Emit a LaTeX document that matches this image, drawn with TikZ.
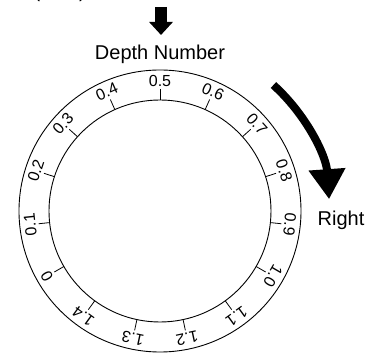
\documentclass[tikz,border=0pt]{standalone}
\usepackage{fontspec}
\setmainfont{Liberation Sans}
\usetikzlibrary{arrows.meta}

\tikzset{
  ring/.style={line width=0.9pt},
  tick/.style={line width=0.8pt},
  scalelabel/.style={font=\fontsize{16}{18}\selectfont, inner sep=0pt},
  bigtext/.style={font=\fontsize{20}{24}\selectfont, inner sep=0pt},
  fatarrow/.style={line width=#1, -{Triangle[length=13pt,width=23pt]}}
}

\begin{document}
\begin{tikzpicture}[x=1pt, y=1pt]
\path[use as bounding box, clip] (-160,-147) rectangle (221,211);

% heading, cut off by the top edge
\node[bigtext, anchor=base east] (head) at (-74,213) {Intervals (0.05)};

\node[bigtext] (depth) at (0,157) {Depth Number};
\node[bigtext] (right) at (181,-9) {Right};

% dial
\draw[ring] (0,0) circle[radius=141];
\draw[ring] (0,0) circle[radius=111];

\foreach \v [count=\i from 0] in {0,0.1,0.2,0.3,0.4,0.5,0.6,0.7,0.8,0.9,1.0,1.1,1.2,1.3,1.4} {
  \pgfmathsetmacro{\a}{210-24*\i}
  \coordinate (tin\i) at (\a:111);
  \coordinate (tout\i) at (\a:122);
  \draw[tick] (tin\i) -- (tout\i);
  \node[scalelabel, rotate=\a-90] (lab\i) at (\a:130.5) {\v};
}

% arrows
\coordinate (downstart) at (1,204);
\coordinate (downend) at (1,176);
\draw[fatarrow=12pt] (downstart) -- (downend);

\coordinate (turnstart) at (48:169.5);
\draw[line width=8pt, -{Triangle[length=30pt,width=35pt]}] (turnstart)
  arc[start angle=48, end angle=4, radius=169.5];
\end{tikzpicture}
\end{document}
